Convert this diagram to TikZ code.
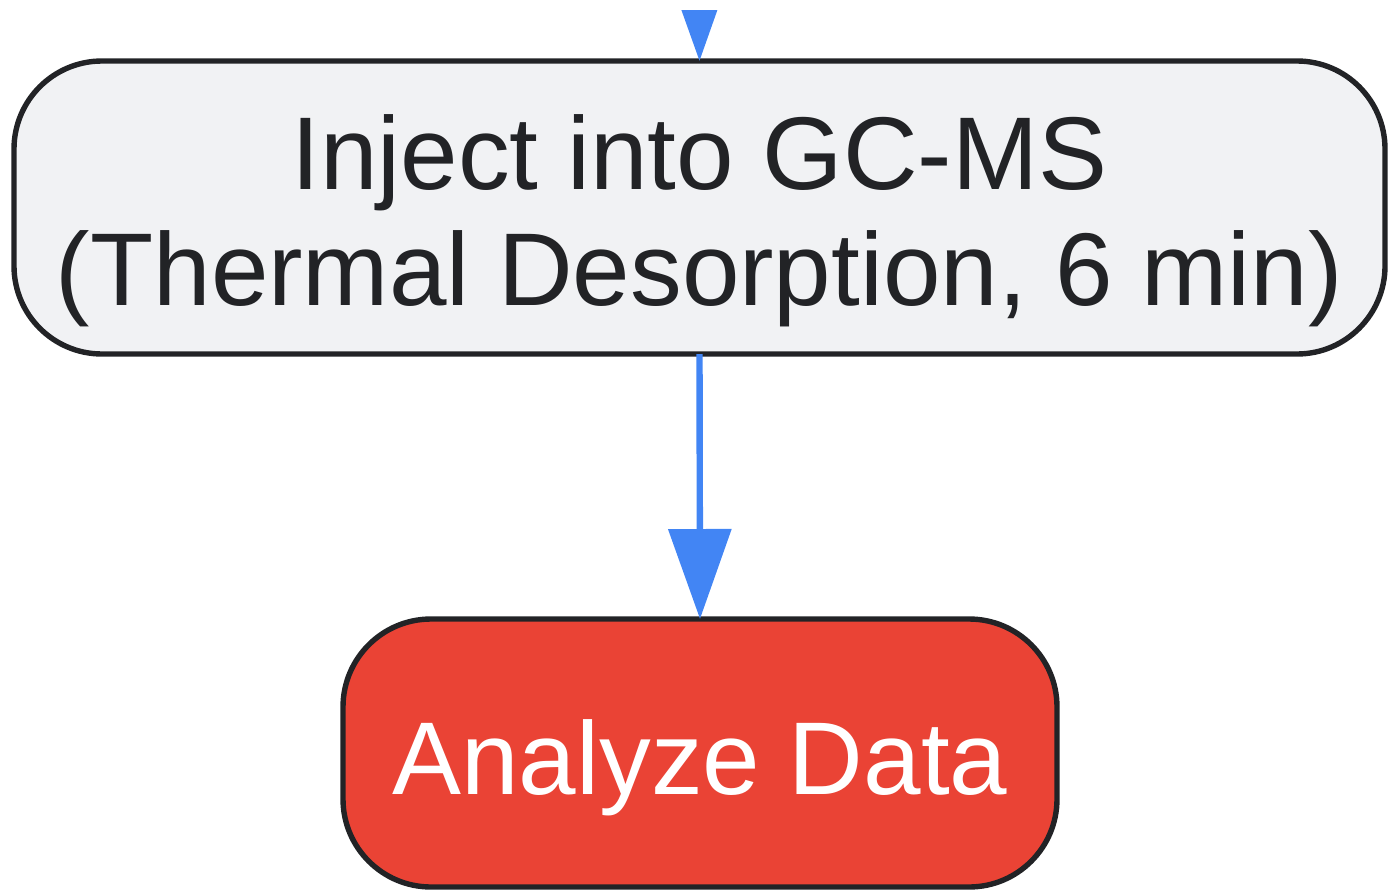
\documentclass[tikz,border=0pt]{standalone}
\usepackage{fontspec}
\setmainfont{Liberation Sans}
\usetikzlibrary{arrows.meta}
\definecolor{boxfill}{HTML}{F1F2F4}
\definecolor{boxline}{HTML}{222326}
\definecolor{redfill}{HTML}{EA4335}
\definecolor{arrowblue}{HTML}{4285F4}
\newcommand{\lowered}[2]{\raisebox{-#1}[\height][\depth]{#2}}
\tikzset{
  stepbox/.style={draw=boxline, line width=2.7pt, rounded corners=44pt,
    font=\fontsize{51.7pt}{58pt}\selectfont, inner sep=0pt, outer sep=0pt},
  flow/.style={draw=arrowblue, line width=3.2pt, -{Triangle[width=31pt,length=45pt]}, arrowblue}
}
\begin{document}
\begin{tikzpicture}[x=0.5pt,y=-0.5pt]
\useasboundingbox (0,0) rectangle (1396,894);
\node[stepbox, fill=boxfill, text=boxline, minimum width=685.5pt, minimum height=146.5pt] (inject) at (699.5,207.5)
  {\lowered{8.5pt}{\begin{tabular}{@{}c@{}}Inject into GC-MS\\(Thermal Desorption, 6 min)\end{tabular}}};
\node[stepbox, fill=redfill, text=white, minimum width=357pt, minimum height=134pt] (analyze) at (700,753)
  {\lowered{7.5pt}{Analyze Data}};
\coordinate (above) at (699,-200);
\begin{scope}
  \clip (0,10) rectangle (1396,200);
  \draw[flow] (above) -- (inject.north);
\end{scope}
\draw[flow] (inject.south) -- (analyze.north);
\end{tikzpicture}
\end{document}
